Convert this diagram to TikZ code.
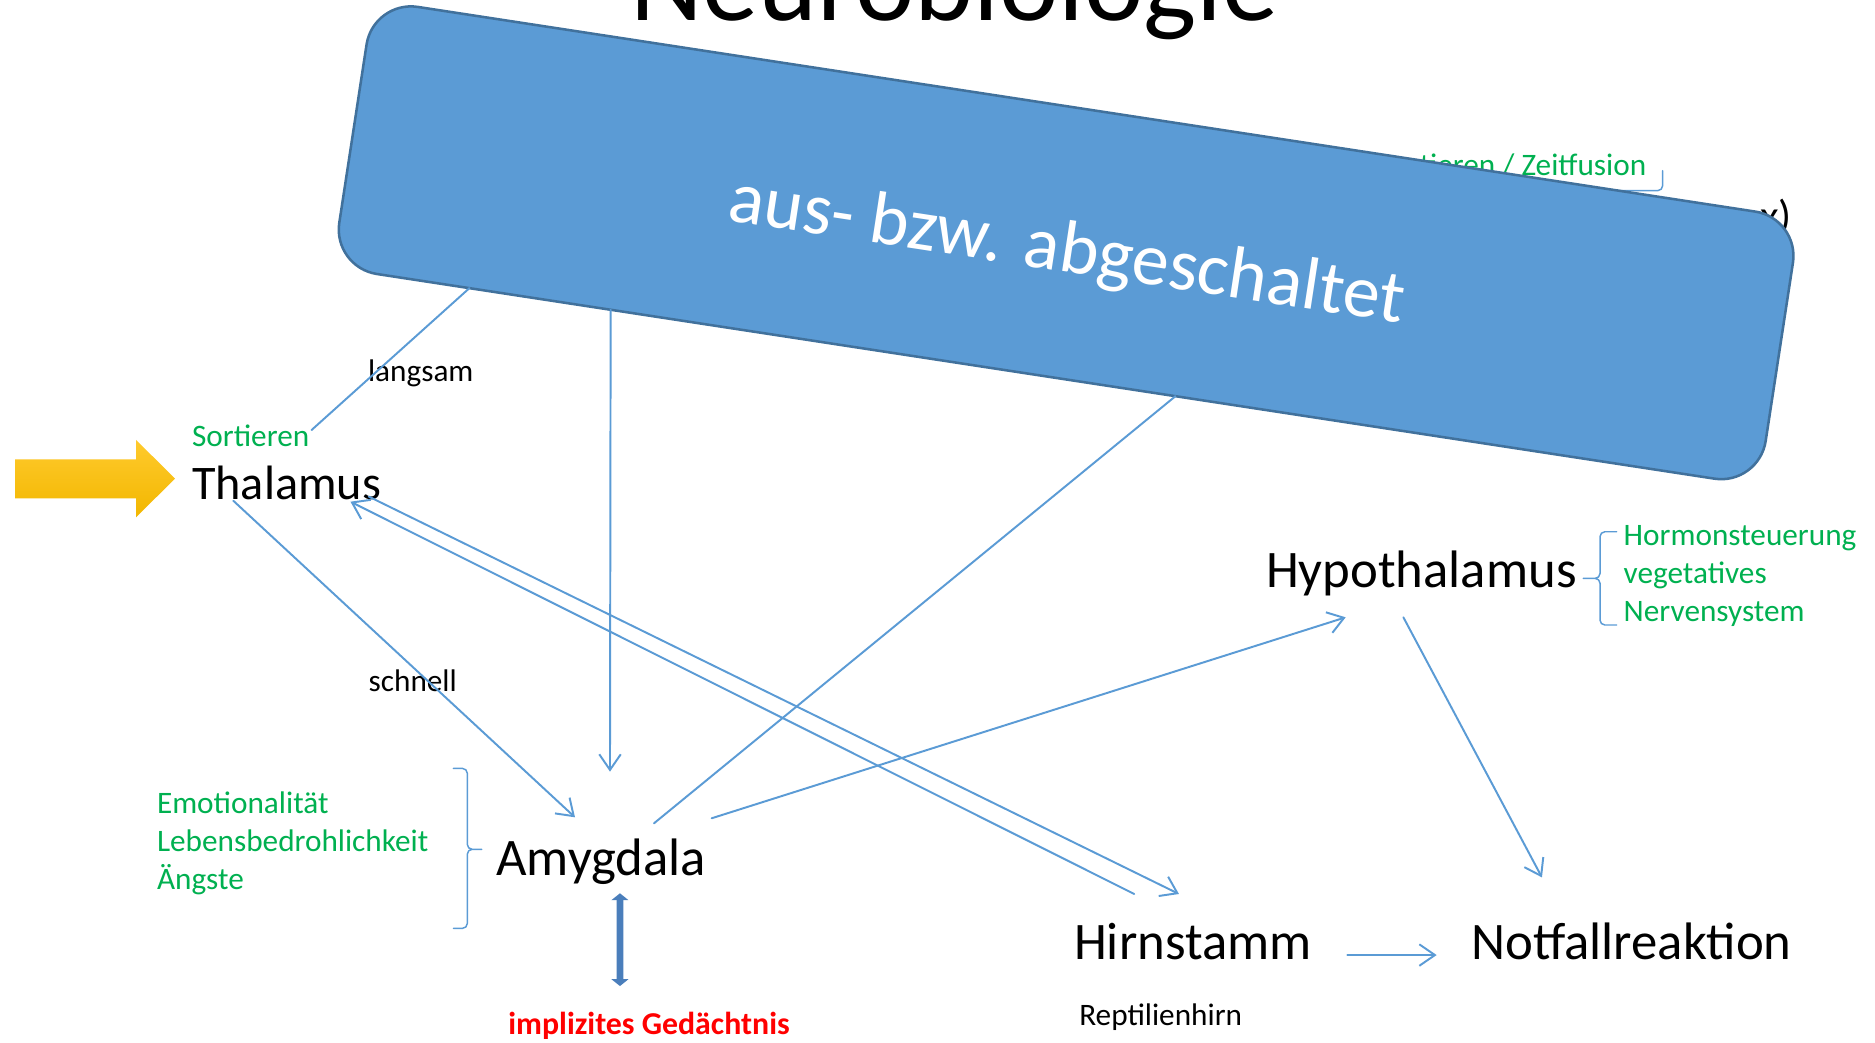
\documentclass[tikz,border=0pt]{standalone}
\usepackage{fontspec}
\setmainfont{Carlito}
\usetikzlibrary{arrows.meta,calc}
\definecolor{lineblue}{RGB}{91,155,213}
\definecolor{boxblue}{RGB}{91,155,213}
\definecolor{boxedge}{RGB}{65,113,156}
\definecolor{notegreen}{RGB}{0,176,80}
\definecolor{dblblue}{RGB}{74,126,187}
\definecolor{goldtop}{RGB}{255,202,45}
\definecolor{goldbot}{RGB}{242,183,0}
\def\u{0.6154pt}
\tikzset{
  region/.style={anchor=base west,inner sep=0pt,font=\fontsize{27}{32}\selectfont},
  note/.style={anchor=base west,inner sep=0pt,align=left,text=notegreen,font=\fontsize{16}{19.4}\selectfont},
  speed/.style={anchor=base west,inner sep=0pt,font=\fontsize{16}{19.4}\selectfont},
  nerve/.style={draw=lineblue,line width=1pt},
  memory/.style={draw=dblblue,line width=3.5pt,line cap=butt,{Triangle[length=3.5pt,width=8.5pt]}-{Triangle[length=3.5pt,width=8.5pt]}},
  hook/.style={draw=lineblue,line width=.75pt,rounded corners=2.5pt}
}
\begin{document}
\begin{tikzpicture}[x=\u,y=-\u,>={Straight Barb[length=8pt,width=11pt]},line join=round,line cap=round]
\clip (0,0) rectangle (1560,867);
% Titel
\node[anchor=base,inner sep=0pt,font=\fontsize{57.6}{60}\selectfont] (title) at (794,17.2) {Neurobiologie};
% Reste hinter dem Kasten
\node[note,anchor=base east] (zeit) at (1370,145.6) {tieren / Zeitfusion};
\node[anchor=base east,inner sep=0pt,font=\fontsize{22}{26}\selectfont] (cortex) at (1491,192) {x)};
\draw[hook] (1383.3,142) -- (1383.3,158.6) -- (1100,158.6);
% Kasten
\node[draw=boxedge,fill=boxblue,line width=1.3pt,rounded corners=23pt,minimum width=1200.6*\u,minimum height=224.8*\u,inner sep=0pt,outer sep=0pt,rotate=-8.7] (box) at (887,202) {};
\node[anchor=base,inner sep=0pt,text=white,rotate=-8.7,font=\fontsize{38}{42}\selectfont] (offtxt) at (885,226) {aus- bzw. abgeschaltet};

% Hirnregionen
\node[region,font=\fontsize{24.7}{30}\selectfont] (thal) at (159.5,415.5) {Thalamus};
\node[note] (sort) at (159.5,371.6) {Sortieren};
\node[speed] (slow) at (305.9,317.5) {langsam};
\node[speed] (fast) at (306.4,575.5) {schnell};
\node[region] (amy) at (412.7,728) {Amygdala};
\node[note] (emo) at (130.3,739.9) {Emotionalität\\Lebensbedrohlichkeit\\Ängste};
\node[anchor=base,inner sep=0pt,text=red,font=\fontsize{16.3}{19.4}\selectfont\bfseries] (impl) at (540,861.1) {implizites Gedächtnis};
\node[region] (hypo) at (1053,488.5) {Hypothalamus};
\node[note] (horm) at (1350.6,517.2) {Hormonsteuerung\\vegetatives\\Nervensystem};
\node[region] (hirn) at (893.3,798.2) {Hirnstamm};
\node[speed] (rept) at (897.6,852.8) {Reptilienhirn};
\node[region] (notf) at (1223.8,798.2) {Notfallreaktion};

% Eingang
\shade[top color=goldtop,bottom color=goldbot] (12.5,382.2) -- (113.2,382.2) -- (113.2,366) -- (145.6,398.2) -- (113.2,430.4) -- (113.2,414.6) -- (12.5,414.6) -- cycle;

% Klammern
\draw[hook] (377.2,639.3) -- (388.8,639.3) -- (388.8,706.6) -- (400.8,706.6)
            (400.8,706.6) -- (388.8,706.6) -- (388.8,772.4) -- (377.2,772.4);
\draw[hook] (1345,442.4) -- (1331.2,442.4) -- (1331.2,481.2) -- (1317.3,481.2)
            (1317.3,481.2) -- (1331.2,481.2) -- (1331.2,520) -- (1345,520);

% Verbindungen
\draw[nerve] ($(sort.base west)+(99.7,-13.8)$) -- ($(box.south west)!0.096!(box.south east)$);
\draw[nerve,->] ($(thal.base west)+(34.6,1.1)$) -- ($(amy.base west)+(65.7,-48)$);
\draw[nerve,->] ($(box.south west)!0.195!(box.south east)$) -- ($(amy.base west)+(94.8,-86)$);
\draw[nerve] ($(amy.base west)+(131.4,-43)$) -- ($(box.south west)!0.591!(box.south east)$);
\draw[nerve,->] ($(amy.base west)+(179.4,-47.2)$) -- ($(hypo.base west)+(66.6,25.1)$);
\draw[nerve,->] ($(hirn.base west)+(50.4,-54.4)$) -- ($(thal.base west)+(132.1,1.9)$);
\draw[nerve,->] ($(thal.base west)+(147.4,-2.3)$) -- ($(hirn.base west)+(87.6,-54.4)$);
\draw[nerve,->] ($(hypo.base west)+(114.6,25.1)$) -- ($(notf.base west)+(59.1,-68.2)$);
\draw[nerve,->] ($(hirn.base west)+(227.7,-3.6)$) -- ($(notf.base west)+(-28.5,-3.6)$);
\draw[memory] ($(amy.base west)+(103.1,15.2)$) -- ($(impl.base)+(-24.2,-40.7)$);
\end{tikzpicture}
\end{document}
